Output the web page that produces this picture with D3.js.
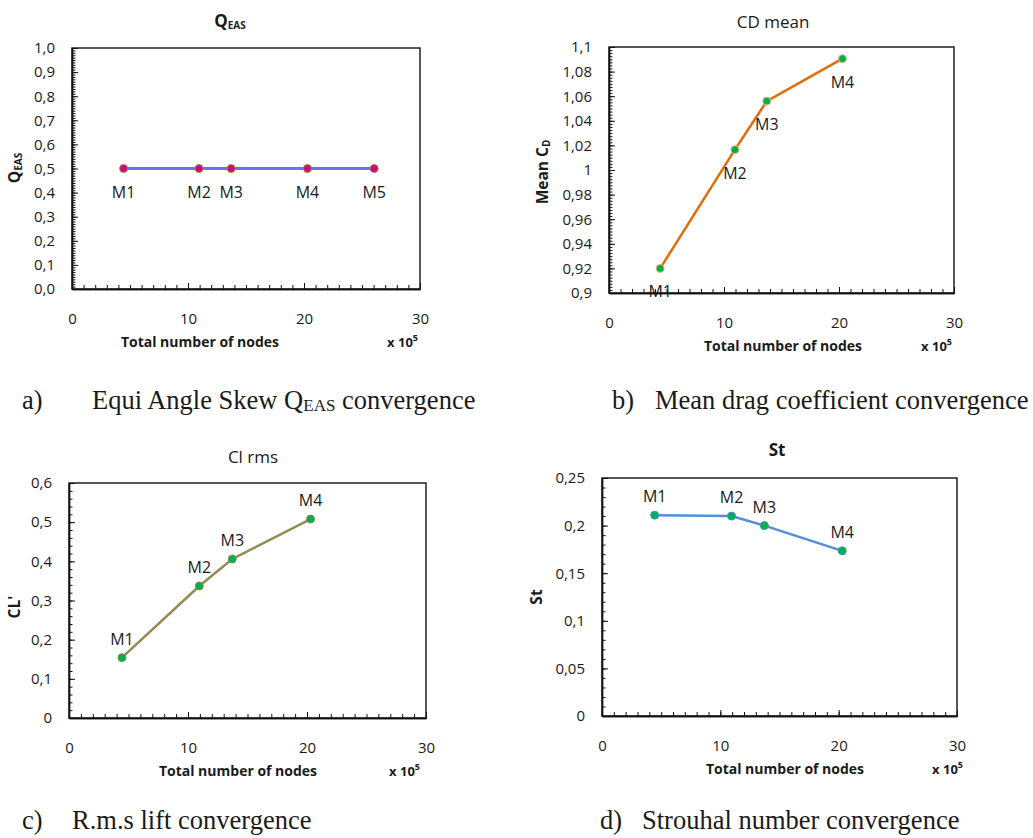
<!doctype html>
<html lang="en">
<head>
  <meta charset="utf-8">
  <title>Mesh convergence</title>
  <script src="https://cdn.jsdelivr.net/npm/d3@7"></script>
  <style>
    body { margin: 0; background: #fff; }
    svg text { font-family: "Open Sans", "Liberation Sans", sans-serif; fill: #1a1a1a; }
    .caption { font-family: "Liberation Serif", "Times New Roman", serif !important; font-size: 26.5px; }
  </style>
</head>
<body>
  <div id="chart"></div>
  <script>
    // Values
    const meshLabels = ["M1", "M2", "M3", "M4", "M5"];
    const nodes = [4.45, 10.95, 13.72, 20.3, 26.05]; // x 10^5
    const qEas = [0.5, 0.5, 0.5, 0.5, 0.5];
    const cdMean = [0.92, 1.0165, 1.056, 1.0905];
    const clRms = [0.154, 0.337, 0.406, 0.508];
    const strouhal = [0.211, 0.21, 0.2, 0.1735];

    const xTicks = [0, 10, 20, 30];
    const qTicks = [0, 0.1, 0.2, 0.3, 0.4, 0.5, 0.6, 0.7, 0.8, 0.9, 1.0];
    const cdTicks = [0.9, 0.92, 0.94, 0.96, 0.98, 1, 1.02, 1.04, 1.06, 1.08, 1.1];
    const clTicks = [0, 0.1, 0.2, 0.3, 0.4, 0.5, 0.6];
    const stTicks = [0, 0.05, 0.1, 0.15, 0.2, 0.25];

    const w = 1033;
    const h = 838;

    const svg = d3.select("#chart").append("svg")
      .attr("width", w)
      .attr("height", h);

    // comma as decimal separator, like the original
    const commaFmt = digits => d => (digits == null ? String(+d.toFixed(4)) : d.toFixed(digits)).replace(".", ",");

    const panels = [
      {
        box: { left: 72, right: 420, top: 48, bottom: 289 },
        values: qEas, domain: [0, 1], ticks: qTicks, minor: 0.01, fmt: commaFmt(1),
        line: "#6f6ff0", lineWidth: 3, dot: "#cc0a7e", dotStroke: "#9c8a4a",
        labelDy: 29, title: ["Q", "EAS"], titleBold: true, titleX: 230, titleY: 27,
        yTitle: ["Q", "EAS"], yTitleX: 15, yTitleY: 168,
        xTitleX: 200, xUnitX: 418
      },
      {
        box: { left: 609, right: 954, top: 47, bottom: 293 },
        values: cdMean, domain: [0.9, 1.1], ticks: cdTicks, minor: 0.0025, fmt: commaFmt(null),
        line: "#e36c0a", lineWidth: 2.5, dot: "#00b050", dotStroke: "#f7b27a",
        labelDy: 29, title: ["CD mean"], titleBold: false, titleX: 773, titleY: 28,
        yTitle: ["Mean  C", "D"], yTitleX: 543, yTitleY: 172,
        xTitleX: 783, xUnitX: 952
      },
      {
        box: { left: 69, right: 426, top: 483, bottom: 718 },
        values: clRms, domain: [0, 0.6], ticks: clTicks, minor: 0.02, fmt: commaFmt(null),
        line: "#948a54", lineWidth: 2.5, dot: "#00b050", dotStroke: "#948a54",
        labelDy: -13, title: ["Cl rms"], titleBold: false, titleX: 253, titleY: 463,
        yTitle: ["CL'"], yTitleX: 15, yTitleY: 607,
        xTitleX: 238, xUnitX: 420
      },
      {
        box: { left: 602, right: 957, top: 478, bottom: 716 },
        values: strouhal, domain: [0, 0.25], ticks: stTicks, minor: 0.01, fmt: commaFmt(null),
        line: "#558ed5", lineWidth: 2.5, dot: "#00b050", dotStroke: "#4a90c8",
        labelDy: -13, title: ["St"], titleBold: true, titleX: 777, titleY: 456,
        yTitle: ["St"], yTitleX: 537, yTitleY: 597,
        xTitleX: 785, xUnitX: 963
      }
    ];

    const captions = [
      { x: 22, textX: 92, y: 409, label: "a)", parts: [["Equi Angle Skew Q", false], ["EAS", true], [" convergence", false]] },
      { x: 612, textX: 655, y: 409, label: "b)", parts: [["Mean drag coefficient convergence", false]] },
      { x: 22, textX: 72, y: 829, label: "c)", parts: [["R.m.s lift convergence", false]] },
      { x: 600, textX: 642, y: 829, label: "d)", parts: [["Strouhal number convergence", false]] }
    ];

    panels.forEach(drawPanel);
    captions.forEach(drawCaption);

    function drawPanel(p) {
      const b = p.box;
      const g = svg.append("g");

      const xScale = d3.scaleLinear().domain([0, 30]).range([b.left, b.right]);
      const yScale = d3.scaleLinear().domain(p.domain).range([b.bottom, b.top]);

      // plot frame
      g.append("rect")
        .attr("x", b.left)
        .attr("y", b.top)
        .attr("width", b.right - b.left)
        .attr("height", b.bottom - b.top)
        .style("fill", "none")
        .style("stroke", "#111")
        .style("stroke-width", 1.4);

      // minor ticks
      const yMinor = d3.range(p.domain[0], p.domain[1] + p.minor / 2, p.minor);
      addAxis(g, `translate(${b.left},0)`,
        d3.axisLeft(yScale).tickValues(yMinor).tickSize(-3.5).tickSizeOuter(0).tickFormat(""));
      addAxis(g, `translate(0,${b.bottom})`,
        d3.axisBottom(xScale).tickValues(d3.range(0, 31, 1)).tickSize(-4).tickSizeOuter(0).tickFormat(""));

      // major ticks + labels
      addAxis(g, `translate(${b.left},0)`,
        d3.axisLeft(yScale).tickValues(p.ticks).tickSize(-6).tickSizeOuter(0).tickPadding(17).tickFormat(p.fmt))
        .selectAll("text").style("font-size", "15px");
      addAxis(g, `translate(0,${b.bottom})`,
        d3.axisBottom(xScale).tickValues(xTicks).tickSize(-6).tickSizeOuter(0).tickPadding(24).tickFormat(d3.format("d")))
        .selectAll("text").style("font-size", "15px");

      // line and points
      const pts = p.values.map((v, i) => ({ x: nodes[i], y: v, label: meshLabels[i] }));
      g.append("path")
        .datum(pts)
        .style("fill", "none")
        .style("stroke", p.line)
        .style("stroke-width", p.lineWidth)
        .attr("d", d3.line().x(d => xScale(d.x)).y(d => yScale(d.y)));

      g.selectAll(".dot")
        .data(pts)
        .enter().append("circle")
        .attr("cx", d => xScale(d.x))
        .attr("cy", d => yScale(d.y))
        .attr("r", 4)
        .style("fill", p.dot)
        .style("stroke", p.dotStroke)
        .style("stroke-width", 1);

      g.selectAll(".lbl")
        .data(pts)
        .enter().append("text")
        .attr("x", d => xScale(d.x))
        .attr("y", d => yScale(d.y) + p.labelDy)
        .style("text-anchor", "middle")
        .style("font-size", "16px")
        .text(d => d.label);

      // titles
      const title = g.append("text")
        .attr("x", p.titleX)
        .attr("y", p.titleY)
        .style("text-anchor", "middle")
        .style("font-size", p.titleBold ? "17px" : "17px")
        .style("font-weight", p.titleBold ? "bold" : "normal");
      addSubText(title, p.title, 10);

      const yt = g.append("text")
        .attr("transform", `translate(${p.yTitleX},${p.yTitleY}) rotate(-90)`)
        .attr("dy", "0.35em")
        .style("text-anchor", "middle")
        .style("font-size", "15.5px")
        .style("font-weight", "bold");
      addSubText(yt, p.yTitle, 10);

      g.append("text")
        .attr("x", p.xTitleX)
        .attr("y", b.bottom + 58)
        .style("text-anchor", "middle")
        .style("font-size", "14px")
        .style("font-weight", "bold")
        .text("Total number of nodes");

      const unit = g.append("text")
        .attr("x", p.xUnitX)
        .attr("y", b.bottom + 58)
        .style("text-anchor", "end")
        .style("font-size", "13px")
        .style("font-weight", "bold");
      unit.append("tspan").text("x 10");
      unit.append("tspan").attr("dy", -6).style("font-size", "9px").text("5");
    }

    function addSubText(el, parts, subSize) {
      el.append("tspan").text(parts[0]);
      if (parts.length > 1) {
        el.append("tspan").attr("dy", 2).style("font-size", subSize + "px").text(parts[1]);
      }
    }

    function addAxis(g, transform, axis) {
      const a = g.append("g")
        .attr("transform", transform)
        .call(axis);
      a.select(".domain").style("stroke", "#111").style("stroke-width", 1.4);
      a.selectAll(".tick line").style("stroke", "#111");
      return a;
    }

    function drawCaption(c) {
      svg.append("text")
        .attr("class", "caption")
        .attr("x", c.x)
        .attr("y", c.y)
        .text(c.label);
      const t = svg.append("text")
        .attr("class", "caption")
        .attr("x", c.textX)
        .attr("y", c.y);
      let shifted = false;
      c.parts.forEach(([s, sub]) => {
        const ts = t.append("tspan")
          .style("font-size", sub ? "17px" : null)
          .text(s);
        if (sub) { ts.attr("dy", 2); shifted = true; }
        else if (shifted) { ts.attr("dy", -2); shifted = false; }
      });
    }
  </script>
</body>
</html>
